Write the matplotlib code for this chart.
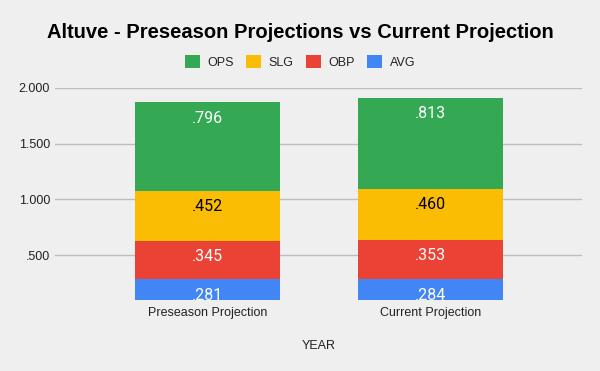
import matplotlib.pyplot as plt
from matplotlib.patches import Patch
from matplotlib.ticker import FuncFormatter

categories = ["Preseason Projection", "Current Projection"]
avg = [0.281, 0.284]
obp = [0.345, 0.353]
slg = [0.452, 0.460]
ops = [0.796, 0.813]

series = [("AVG", avg, "#4285f4", "white"),
          ("OBP", obp, "#ea4335", "white"),
          ("SLG", slg, "#fbbc04", "black"),
          ("OPS", ops, "#34a853", "white")]

bg = "#efefef"
plt.rcParams['font.family'] = ['Liberation Sans', 'DejaVu Sans']

fig = plt.figure(figsize=(6, 3.71), dpi=100, facecolor=bg)
ax = fig.add_axes([55/600, 1 - 300/371, 527/600, 212/371], facecolor=bg)

x = list(range(len(categories)))
bottoms = [0.0] * len(categories)
for name, vals, color, tcolor in series:
    bars = ax.bar(x, vals, width=0.65, bottom=bottoms, color=color, zorder=2)
    for xi, v, b in zip(x, vals, bottoms):
        ax.annotate(f"{v:.3f}".lstrip("0"), (xi, b + v), xytext=(0, -11.5),
                    textcoords="offset points", ha="center", va="center",
                    color=tcolor, fontsize=11.5, family=["Roboto", "DejaVu Sans"],
                    annotation_clip=False, clip_on=True, zorder=3)
    bottoms = [b + v for b, v in zip(bottoms, vals)]

ax.set_xlim(-0.684, 1.68)
ax.set_ylim(0.096, 2.0)
ax.set_yticks([0.5, 1.0, 1.5, 2.0])
ax.yaxis.set_major_formatter(FuncFormatter(lambda v, p: f"{v:.3f}".lstrip("0") if v < 1 else f"{v:.3f}"))
ax.grid(axis="y", color="#bdbdbd", linewidth=1, zorder=1)
ax.set_xticks(x)
ax.set_xticklabels(categories)
ax.tick_params(axis="both", length=0, labelsize=9, labelcolor="#222222")
ax.tick_params(axis="x", pad=5)
ax.tick_params(axis="y", pad=3.5)
for s in ax.spines.values():
    s.set_visible(False)
ax.set_xlabel("YEAR", fontsize=9, color="#222222", labelpad=15)

fig.text(0.5, 1 - 32/371, "Altuve - Preseason Projections vs Current Projection",
         ha="center", va="center", fontsize=14.5, fontweight="bold", color="black")

handles = [Patch(facecolor=c, label=n) for n, _, c, _ in reversed(series)]
fig.legend(handles=handles, loc="center", bbox_to_anchor=(0.5, 1 - 62/371), ncol=4,
           frameon=False, fontsize=9, handlelength=1.2, handleheight=1.2,
           handletextpad=0.6, columnspacing=1.0, labelcolor="#222222")

fig.savefig("out.png", dpi=100, facecolor=bg)
